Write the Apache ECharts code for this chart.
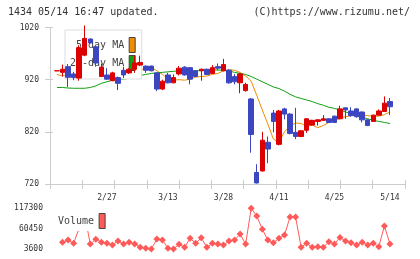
<!DOCTYPE html>
<html><head><meta charset="utf-8">
<script src="https://cdn.jsdelivr.net/npm/echarts@6/dist/echarts.min.js"></script>
<style>html,body{margin:0;padding:0;background:#fff}#c{width:420px;height:259px}</style>
</head><body><div id="c"></div>
<script>
const dates = ['2/13','2/14','2/15','2/16','2/19','2/20','2/21','2/22','2/26','2/27','2/28','2/29','3/1','3/4','3/5','3/6','3/7','3/8','3/11','3/12','3/13','3/14','3/15','3/18','3/19','3/21','3/22','3/25','3/26','3/27','3/28','3/29','4/1','4/2','4/3','4/4','4/5','4/8','4/9','4/10','4/11','4/12','4/15','4/16','4/17','4/18','4/19','4/22','4/23','4/24','4/25','4/26','4/30','5/1','5/2','5/7','5/8','5/9','5/10','5/13','5/14'];
const opens  = [937,934,945,931,923,967,998,983,926,929,918,924,938,933,940,948,946,946,933,902,929,914,931,944,943,937,937,940,932,945,937,938,926,914,899,883,742,745,800,856,796,864,854,819,811,823,833,840,842,845,850,845,866,860,864,858,843,840,852,859,878];
const closes = [937,940,924.5,924,981,999,991,952,944,921,933,913,929,940,952,953,938,937,902,917,914,924,942,929,921,926,940,930,943,942,949,914,916,931,911,815,722,804,787,840,860,854,817,811,822,845,842,843,845,838,838,864,862,851,849,843,832,852,860,875,868];
const lows   = [937,926,906,919,918,965,989,945,925,920,917,900,923,931,933,946,933,936,898,900,913,913,928,928,911,925,918,929,931,938,936,912,911,894,897,780,721,744,760,819,794,844,815,806,810,818,832,832,841,837,837,844,845,849,847,838,831,839,851,858,852];
const highs  = [937,949,950,935,986,1024,999,985,951,942,935,926,945,942,966,966,947,947,934,920,933,930,946,946,944,938,941,941,948,951,960,940,931,933,914,885,758,820,811,862,862,866,856,866,823,846,843,844,852,846,851,870,867,867,865,859,844,853,863,888,885];
const ma5  = [930,927,930,928,941,954,964,970,973,961,948,933,928,927,933,938,943,944,937,930,922,919,920,919,921,925,926,927,930,932,937,939,938,934,927,917,890,862,835,806,800,820,831,837,836,830,833,828,832,838,842,846,849,851,853,852,851,850,850,853,858];
const ma25 = [905,905,904,903.5,903.5,903.5,905,908,913,916,919,920,921,922.5,925,928,930,932,933,934,935,936,937,937,937,937,937.5,938,938.5,938.5,938,936.5,934,932,930,926,921,916,911,906,903,898,892,887,884,881,878,874,871,867,865,862,858,855,851,848,845,842,840,838,836];
const volumes = [null,22200,28600,19400,62000,98000,17500,30500,22200,19400,14700,25800,17500,22200,17500,8300,5500,3600,31300,28600,5500,3600,16600,8300,33300,19400,35000,8300,19400,17500,14700,25800,28600,45200,17500,117300,96000,59100,28600,21100,33300,42400,93200,93200,8300,19400,8300,10000,8300,23800,17500,36000,25800,21100,14700,22200,14700,19400,10000,68200,17500];
const priceTicks = [720,820,920,1020];
const volumeTicks = [3600,60450,117300];
const dateLabels = ['2/27','3/13','3/28','4/11','4/25','5/14'];

const FONT = 'DejaVu Sans Mono';
const AX = '#cccccc';
const plain = v => String(v);
const candles = dates.map((d,i)=>[opens[i],closes[i],lows[i],highs[i]]);

const chart = echarts.init(document.getElementById('c'), null, {renderer:'canvas'});
chart.setOption({
  animation:false,
  backgroundColor:'#fff',
  title:[
    {text:'1434 05/14 16:47 updated.', left:8, top:7, padding:0, textStyle:{fontSize:10, fontWeight:'normal', color:'#333', fontFamily:FONT}},
    {text:'(C)https://www.rizumu.net/', right:10, top:7, padding:0, textStyle:{fontSize:10, fontWeight:'normal', color:'#333', fontFamily:FONT}}
  ],
  legend:[
    {data:[{name:'5-day MA', icon:'rect'},{name:'25-day MA', icon:'rect'}], orient:'vertical', left:65, top:30, align:'right', z:3,
     itemWidth:6, itemHeight:15, itemGap:2, padding:[7,6,8,5], borderColor:'#dddddd', borderWidth:1, backgroundColor:'#fff', selectedMode:false,
     textStyle:{fontSize:10, color:'#444', fontFamily:FONT}, itemStyle:{borderColor:'#444', borderWidth:1}},
    {data:[{name:'Volume', icon:'rect'}], left:54, top:210, align:'right', itemWidth:6, itemHeight:15, padding:[3,4,2,4], z:3,
     backgroundColor:'#fff', selectedMode:false,
     textStyle:{fontSize:10, color:'#444', fontFamily:FONT}, itemStyle:{borderColor:'#444', borderWidth:1}}
  ],
  grid:[
    {left:50, right:15, top:27.5, height:156.5},
    {left:54.2, width:338.5, top:27.5, height:156.5},
    {left:54.2, width:338.5, top:208.3, height:40.7}
  ],
  xAxis:[
    {gridIndex:0, type:'value', min:0, max:11, interval:1, position:'bottom',
     axisLine:{show:true, lineStyle:{color:AX}}, axisTick:{show:true, inside:true, length:4, lineStyle:{color:AX}},
     axisLabel:{show:false}, splitLine:{show:false}},
    {gridIndex:0, type:'value', min:0, max:11, interval:1, position:'bottom',
     axisLine:{show:false}, axisTick:{show:true, inside:false, length:5, lineStyle:{color:AX}},
     axisLabel:{show:false}, splitLine:{show:false}},
    {gridIndex:1, type:'category', data:dates, position:'bottom', axisLine:{show:false}, axisTick:{show:false}, splitLine:{show:false},
     axisLabel:{interval:(i,v)=>dateLabels.includes(v), fontSize:8, margin:10, color:'#333', fontFamily:FONT}},
    {gridIndex:2, type:'category', data:dates, show:false}
  ],
  yAxis:[
    {gridIndex:0, type:'value', position:'left', min:priceTicks[0], max:priceTicks[priceTicks.length-1], interval:priceTicks[1]-priceTicks[0],
     axisLine:{show:true, lineStyle:{color:AX}}, axisTick:{show:true, length:5, lineStyle:{color:AX}},
     axisLabel:{fontSize:8, margin:11, color:'#333', fontFamily:FONT, formatter:plain}, splitLine:{show:false}},
    {gridIndex:0, type:'value', position:'left', min:priceTicks[0], max:priceTicks[priceTicks.length-1], interval:priceTicks[1]-priceTicks[0],
     axisLine:{show:false}, axisTick:{show:true, inside:true, length:3, lineStyle:{color:AX}},
     axisLabel:{show:false}, splitLine:{show:false}},
    {gridIndex:1, type:'value', min:priceTicks[0], max:priceTicks[priceTicks.length-1], show:false},
    {gridIndex:2, type:'value', min:volumeTicks[0], max:volumeTicks[2], interval:volumeTicks[1]-volumeTicks[0],
     axisLine:{show:false}, axisTick:{show:false}, splitLine:{show:false},
     axisLabel:{fontSize:8, margin:11.2, color:'#333', fontFamily:FONT, formatter:plain}}
  ],
  series:[
    {name:'5-day MA', type:'line', xAxisIndex:2, yAxisIndex:2, data:ma5, symbol:'none', z:2, lineStyle:{width:1, color:'#f08c00'}, itemStyle:{color:'#f08c00'}},
    {name:'25-day MA', type:'line', xAxisIndex:2, yAxisIndex:2, data:ma25, symbol:'none', z:2, lineStyle:{width:1, color:'#10a010'}, itemStyle:{color:'#10a010'}},
    {name:'1434', type:'candlestick', xAxisIndex:2, yAxisIndex:2, data:candles, barWidth:5, clip:false, z:4,
     itemStyle:{color:'#dd0000', color0:'#3c46c0', borderColor:'#dd0000', borderColor0:'#3c46c0', borderColorDoji:'#dd0000', borderWidth:1}},
    {name:'Volume', type:'line', xAxisIndex:3, yAxisIndex:3, data:volumes, connectNulls:false, symbol:'diamond', symbolSize:7, showAllSymbol:true, z:2,
     lineStyle:{width:1, color:'#ff5a5a'}, itemStyle:{color:'#ff5a5a'}}
  ]
});
</script></body></html>
